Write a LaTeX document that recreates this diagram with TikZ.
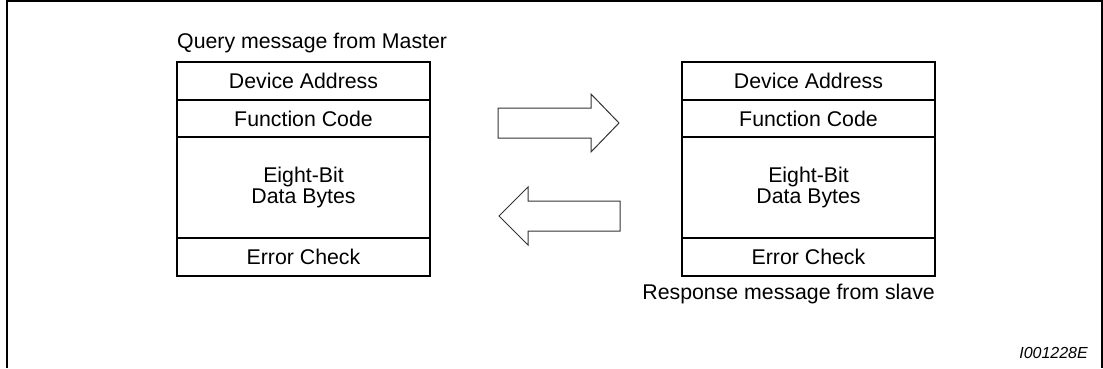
\documentclass[tikz,border=0pt]{standalone}
\usepackage{fontspec}
\setmainfont{Liberation Sans}
\usetikzlibrary{positioning}

\begin{document}
\begin{tikzpicture}[x=1pt, y=-1pt, node distance=0pt,
    field/.style={draw, line width=2pt, minimum width=253pt, inner sep=0pt,
      outer sep=0pt, align=center, font=\fontsize{21.3}{20.5}\selectfont},
    caption/.style={inner sep=0pt, font=\fontsize{21.3}{24}\selectfont},
    bigarrow/.style={draw=black!80, line width=1pt, line join=miter}]
  \useasboundingbox (0,0) rectangle (1103,368);
  \draw[line width=2pt] (6.5,368) -- (6.5,1) -- (1101.5,1) -- (1101.5,368);
  % query frame
  \node[field, minimum height=38pt, anchor=north] (QA) at (303.5,62) {Device Address};
  \node[field, minimum height=37pt, below=of QA] (QF) {Function Code};
  \node[field, minimum height=101pt, below=of QF] (QD) {Eight-Bit\\Data Bytes};
  \node[field, minimum height=38pt, below=of QD] (QE) {Error Check};
  \node[caption, anchor=west] (Qcap) at (177,43) {Query message from Master};
  % response frame
  \node[field, minimum height=38pt, anchor=north] (RA) at (808.5,62) {Device Address};
  \node[field, minimum height=37pt, below=of RA] (RF) {Function Code};
  \node[field, minimum height=101pt, below=of RF] (RD) {Eight-Bit\\Data Bytes};
  \node[field, minimum height=38pt, below=of RD] (RE) {Error Check};
  \node[caption, anchor=east] (Rcap) at (935,294) {Response message from slave};
  % arrows
  \draw[bigarrow] (498,108) -- (591,108) -- (591,94) -- (619,123) -- (591,152)
    -- (591,138) -- (498,138) -- cycle;
  \draw[bigarrow] (620,201) -- (528,201) -- (528,187) -- (499,216) -- (528,245)
    -- (528,231) -- (620,231) -- cycle;
  \node[caption, anchor=east, font=\fontsize{16}{18}\selectfont\itshape] (fig) at (1088,353) {I001228E};
\end{tikzpicture}
\end{document}
